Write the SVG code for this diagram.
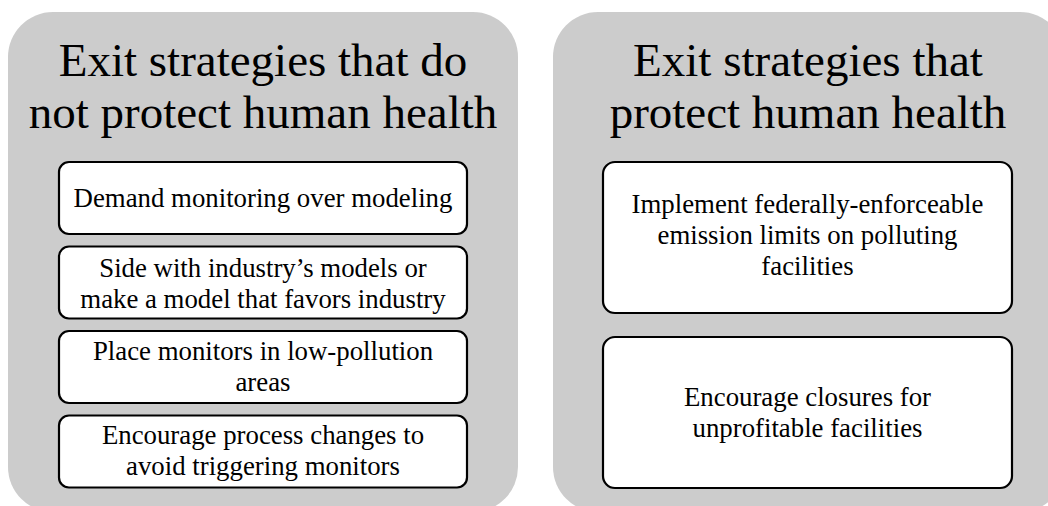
<svg xmlns="http://www.w3.org/2000/svg" width="1048" height="506" viewBox="0 0 1048 506">
  <style>
    .panel { fill: #cccccc; }
    .item { fill: #ffffff; stroke: #000000; stroke-width: 2.2; }
    .title { font-family: "Liberation Serif", "Times New Roman", serif; font-size: 47px; fill: #000000; text-anchor: middle; }
    .label { font-family: "Liberation Serif", "Times New Roman", serif; font-size: 26.8px; fill: #000000; text-anchor: middle; }
  </style>

  <!-- Left column: strategies that do not protect health -->
  <g id="panel-left">
    <rect class="panel" x="8" y="12" width="510" height="500" rx="45" ry="45"/>
    <text class="title" x="263" y="76">Exit strategies that do</text>
    <text class="title" x="263" y="128">not protect human health</text>
  </g>
  <g id="item-demand-monitoring">
    <rect class="item" x="59" y="162" width="408" height="72" rx="10" ry="10"/>
    <text class="label" x="263" y="207">Demand monitoring over modeling</text>
  </g>
  <g id="item-side-with-industry">
    <rect class="item" x="59" y="246.5" width="408" height="72" rx="10" ry="10"/>
    <text class="label" x="263" y="277">Side with industry’s models or</text>
    <text class="label" x="263" y="308">make a model that favors industry</text>
  </g>
  <g id="item-place-monitors">
    <rect class="item" x="59" y="331" width="408" height="72" rx="10" ry="10"/>
    <text class="label" x="263" y="360">Place monitors in low-pollution</text>
    <text class="label" x="263" y="391">areas</text>
  </g>
  <g id="item-process-changes">
    <rect class="item" x="59" y="415.5" width="408" height="72" rx="10" ry="10"/>
    <text class="label" x="263" y="444">Encourage process changes to</text>
    <text class="label" x="263" y="475">avoid triggering monitors</text>
  </g>

  <!-- Right column: strategies that protect health -->
  <g id="panel-right">
    <rect class="panel" x="553" y="12" width="512" height="500" rx="45" ry="45"/>
    <text class="title" x="808" y="76">Exit strategies that</text>
    <text class="title" x="808" y="128">protect human health</text>
  </g>
  <g id="item-emission-limits">
    <rect class="item" x="603" y="162" width="409" height="151" rx="12" ry="12"/>
    <text class="label" x="807.5" y="213">Implement federally-enforceable</text>
    <text class="label" x="807.5" y="244">emission limits on polluting</text>
    <text class="label" x="807.5" y="275">facilities</text>
  </g>
  <g id="item-closures">
    <rect class="item" x="603" y="337" width="409" height="151" rx="12" ry="12"/>
    <text class="label" x="807.5" y="406">Encourage closures for</text>
    <text class="label" x="807.5" y="437">unprofitable facilities</text>
  </g>

  <!-- no connectors in this figure -->
  <g id="connectors"/>
</svg>
